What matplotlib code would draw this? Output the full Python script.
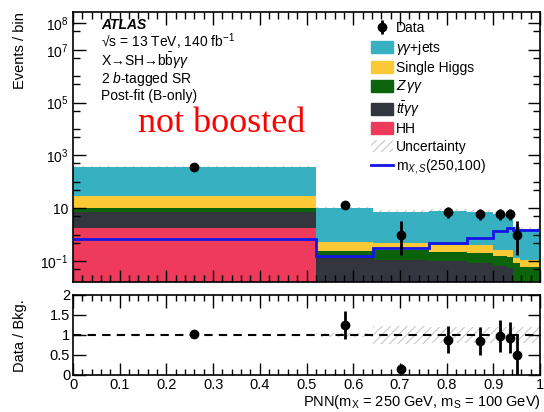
import matplotlib
matplotlib.use("Agg")
import matplotlib.pyplot as plt
import matplotlib.patches as mpatches
from matplotlib.lines import Line2D
import numpy as np

plt.rcParams["font.family"] = ["Liberation Sans", "DejaVu Sans"]
plt.rcParams["mathtext.fontset"] = "custom"
plt.rcParams["mathtext.rm"] = "Liberation Sans"
plt.rcParams["mathtext.it"] = "Liberation Sans:italic"
plt.rcParams["mathtext.bf"] = "Liberation Sans:bold"
plt.rcParams["hatch.linewidth"] = 0.8

# bin edges of the PNN score
edges = [0.0, 0.52, 0.643, 0.763, 0.843, 0.90, 0.929, 0.943, 0.957, 1.0]

# background components per bin (events)
hh = [1.74, 0.001, 0.001, 0.001, 0.001, 0.001, 0.001, 0.001, 0.001]
ttyy = [5.3, 0.13, 0.11, 0.095, 0.083, 0.065, 0.055, 0.01, 0.01]
zyy = [3.5, 0.10, 0.15, 0.115, 0.117, 0.095, 0.085, 0.07, 0.05]
single_higgs = [18.5, 0.31, 0.21, 0.20, 0.21, 0.11, 0.12, 0.05, 0.05]
yy_jets = [341.0, 9.76, 6.53, 7.49, 6.69, 5.83, 6.14, 1.87, 1.49]

# relative background uncertainty per bin
unc_rel = [0.03, 0.06, 0.22, 0.19, 0.19, 0.19, 0.19, 0.19, 0.19]

# signal m_X,S(250,100)
signal = [0.71, 0.155, 0.30, 0.47, 0.78, 1.40, 1.74, 1.50, 1.50]

# observed data (first 8 bins) and Poisson intervals
data = [380, 13, 1, 7, 6, 6, 6, 1]
data_err_lo = [19.5, 3.6, 0.83, 2.6, 2.4, 2.4, 2.4, 0.83]
data_err_hi = [19.5, 4.7, 2.3, 3.8, 3.6, 3.6, 3.6, 2.3]

colors = {
    "hh": "#ee3a5b",
    "tt": "#33363f",
    "z": "#0b640b",
    "sh": "#fbc935",
    "yy": "#37b0c2",
}

edges = np.array(edges)
centers = 0.5 * (edges[:-1] + edges[1:])
comps = [np.array(c) for c in (hh, ttyy, zyy, single_higgs, yy_jets)]
comp_colors = [colors["hh"], colors["tt"], colors["z"], colors["sh"], colors["yy"]]
total = np.sum(comps, axis=0)
unc = np.array(unc_rel)

fig = plt.figure(figsize=(5.44, 4.12), dpi=100)
W, H = 544.0, 412.0
ax = fig.add_axes([73 / W, 1 - 281.7 / H, 467 / W, 270 / H])
rax = fig.add_axes([73 / W, 1 - 375 / H, 467 / W, 80 / H])

# main panel
ax.set_yscale("log")
ax.stairs(total * (1 + unc), edges, baseline=total * (1 - unc), fill=True,
          facecolor="none", edgecolor="#c8c8c8", hatch="////", lw=0, zorder=0.5)
base = np.full(len(total), 1e-3)
for vals, col in zip(comps, comp_colors):
    ax.stairs(base + vals, edges, baseline=base, fill=True, color=col, lw=0, zorder=1)
    base = base + vals
ax.stairs(signal, edges, baseline=None, color="#1414e6", lw=2, zorder=3)
n = len(data)
ax.errorbar(centers[:n], data, yerr=[data_err_lo, data_err_hi], fmt="o", color="black",
            ms=6, elinewidth=2, capsize=0, zorder=4)

ax.set_xlim(0, 1)
ax.set_ylim(10 ** -1.78, 10 ** 8.44)
major_y = [1e-1, 1e1, 1e3, 1e5, 1e7, 1e8]
major_lbl = [r"$10^{-1}$", "10", r"$10^{3}$", r"$10^{5}$", r"$10^{7}$", r"$10^{8}$"]
minor_y = []
for e in range(-2, 9):
    for s in (1, 5):
        v = s * 10.0 ** e
        if v not in major_y:
            minor_y.append(v)
ax.yaxis.set_major_locator(matplotlib.ticker.FixedLocator(major_y))
ax.yaxis.set_major_formatter(matplotlib.ticker.FixedFormatter(major_lbl))
ax.yaxis.set_minor_locator(matplotlib.ticker.FixedLocator(minor_y))
ax.yaxis.set_minor_formatter(matplotlib.ticker.NullFormatter())
ax.xaxis.set_major_locator(matplotlib.ticker.MultipleLocator(0.1))
ax.xaxis.set_minor_locator(matplotlib.ticker.MultipleLocator(0.02))
ax.tick_params(which="both", direction="in", top=True, right=True, labelbottom=False,
               labelsize=10, width=1)
ax.tick_params(which="major", length=9)
ax.tick_params(which="minor", length=5)

# ratio panel
ratio = np.array(data) / total[:n]
ratio_err = np.sqrt(np.array(data)) / total[:n]
rax.stairs(1 + unc[1:], edges[1:], baseline=1 - unc[1:], fill=True,
           facecolor="none", edgecolor="#c8c8c8", hatch="////", lw=0, zorder=0.5)
rax.axhline(1, color="black", ls=(0, (4, 3)), lw=1.5, zorder=2)
rax.errorbar(centers[:n], ratio, yerr=ratio_err, fmt="o", color="black",
             ms=6, elinewidth=2, capsize=0, zorder=4)
rax.set_xlim(0, 1)
rax.set_ylim(0, 2)
rax.set_yticks([0, 0.5, 1, 1.5, 2])
rax.set_yticklabels(["0", "0.5", "1", "1.5", "2"])
rax.set_xticks(np.arange(0, 1.01, 0.1))
rax.set_xticklabels(["0", "0.1", "0.2", "0.3", "0.4", "0.5", "0.6", "0.7", "0.8", "0.9", "1"])
rax.xaxis.set_minor_locator(matplotlib.ticker.MultipleLocator(0.02))
rax.tick_params(which="both", direction="in", top=True, right=True, labelsize=10.5, width=1)
rax.tick_params(which="major", length=9, pad=2)
rax.tick_params(which="minor", length=4)

for a in (ax, rax):
    for sp in a.spines.values():
        sp.set_linewidth(1.2)

# labels
fig.text(20 / W, 1 - 12 / H, "Events / bin", rotation=90, ha="center", va="top", fontsize=10.5)
fig.text(20 / W, 1 - 336 / H, "Data / Bkg.", rotation=90, ha="center", va="center", fontsize=10.5)
fig.text(541 / W, 1 - 402 / H, r"PNN(m$_{\mathrm{X}}$ = 250 GeV, m$_{\mathrm{S}}$ = 100 GeV)",
         ha="right", va="center", fontsize=10.5)

tx = 101 / W
fig.text(tx, 1 - 25 / H, "ATLAS", fontsize=10, fontweight="bold", style="italic", va="center")
fig.text(tx, 1 - 41.5 / H, "\u221as = 13 TeV, 140 fb$^{-1}$", fontsize=10, va="center")
fig.text(tx, 1 - 61 / H, "X\u2192SH\u2192" + r"$\mathrm{b}\bar{\mathrm{b}}\gamma\gamma$",
         fontsize=10, va="center")
fig.text(tx, 1 - 79 / H, r"2 $b$-tagged SR", fontsize=10, va="center")
fig.text(tx, 1 - 96 / H, "Post-fit (B-only)", fontsize=10, va="center")
fig.text(222 / W, 1 - 132 / H, "not boosted", color="red", fontsize=26, ha="center",
         va="baseline", family="Liberation Serif")

# legend
handles = [
    ax.errorbar([], [], yerr=[], fmt="o", color="black", ms=6, elinewidth=2),
    mpatches.Patch(color=colors["yy"]),
    mpatches.Patch(color=colors["sh"]),
    mpatches.Patch(color=colors["z"]),
    mpatches.Patch(color=colors["tt"]),
    mpatches.Patch(color=colors["hh"]),
    mpatches.Patch(facecolor="white", edgecolor="#c8c8c8", hatch="////", lw=0),
    Line2D([], [], color="#1414e6", lw=2),
]
labels = ["Data", r"$\gamma\gamma$+jets", "Single Higgs", r"$Z\,\gamma\gamma$",
          r"$t\bar{t}\gamma\gamma$", "HH", "Uncertainty", r"m$_{X,S}$(250,100)"]
fig.legend(handles, labels, loc="upper left", bbox_to_anchor=(371 / W, 1 - 21.5 / H),
           bbox_transform=fig.transFigure, frameon=False, fontsize=10,
           handlelength=1.55, handleheight=0.95, handletextpad=0.25,
           labelspacing=0.26, borderpad=0, borderaxespad=0)

fig.savefig("out.png", dpi=100)
